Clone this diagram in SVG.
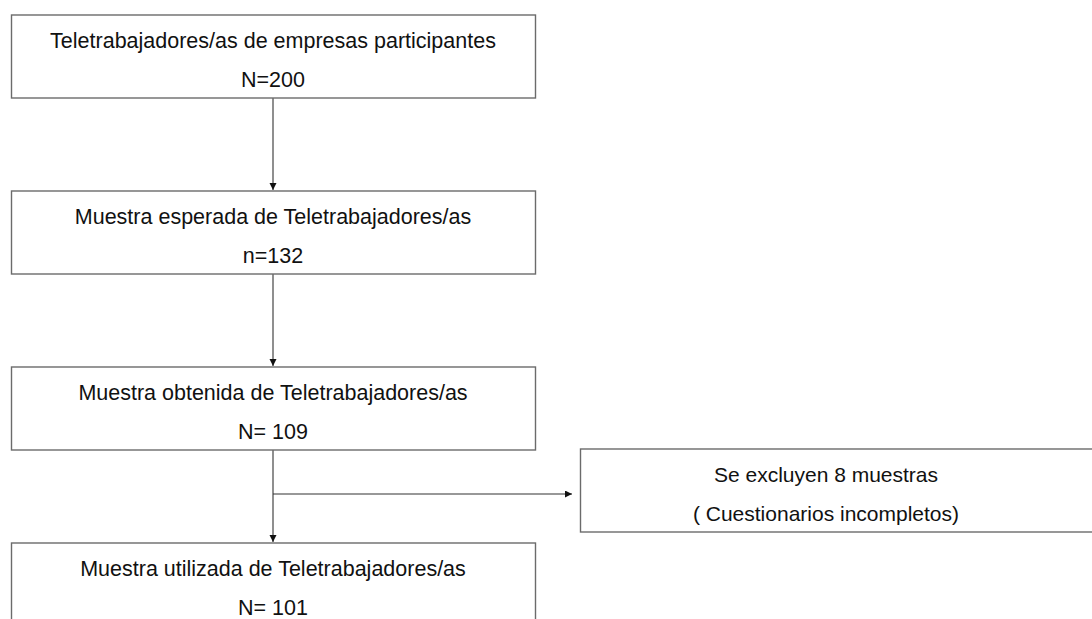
<svg xmlns="http://www.w3.org/2000/svg" width="1092" height="619" viewBox="0 0 1092 619">
<defs>
<style>
.box{fill:#fff;stroke:#6b6b6b;stroke-width:1.4}
.t{font-family:"Liberation Sans",Arial,sans-serif;font-size:21.5px;fill:#111;text-anchor:middle}
.s{font-size:21px}
.c{stroke:#333;stroke-width:1.1;fill:none}
</style>
<marker id="ah" markerWidth="8" markerHeight="8" refX="7" refY="3.5" orient="auto" markerUnits="userSpaceOnUse">
<path d="M0,0 L7,3.5 L0,7 Z" fill="#111"/>
</marker>
</defs>
<rect width="1092" height="619" fill="#fff"/>
<g id="connectors">
<line class="c" x1="273" y1="98" x2="273" y2="190" marker-end="url(#ah)"/>
<line class="c" x1="273" y1="274" x2="273" y2="366" marker-end="url(#ah)"/>
<line class="c" x1="273" y1="450" x2="273" y2="542" marker-end="url(#ah)"/>
<line class="c" x1="273" y1="494" x2="572" y2="494" marker-end="url(#ah)"/>
</g>
<g id="n1">
<rect class="box" x="11.5" y="15" width="524" height="83"/>
<text class="t" x="273" y="48">Teletrabajadores/as de empresas participantes</text>
<text class="t" x="273" y="87">N=200</text>
</g>
<g id="n2">
<rect class="box" x="11.5" y="191" width="524" height="83"/>
<text class="t" x="273" y="224">Muestra esperada de Teletrabajadores/as</text>
<text class="t" x="273" y="263">n=132</text>
</g>
<g id="n3">
<rect class="box" x="11.5" y="367" width="524" height="83"/>
<text class="t" x="273" y="400">Muestra obtenida de Teletrabajadores/as</text>
<text class="t" x="273" y="439">N= 109</text>
</g>
<g id="n4">
<rect class="box" x="11.5" y="543" width="524" height="83"/>
<text class="t" x="273" y="576">Muestra utilizada de Teletrabajadores/as</text>
<text class="t" x="273" y="615">N= 101</text>
</g>
<g id="n5">
<rect class="box" x="580.5" y="449" width="530" height="83"/>
<text class="t s" x="826" y="482">Se excluyen 8 muestras</text>
<text class="t s" x="826" y="521">( Cuestionarios incompletos)</text>
</g>
</svg>
